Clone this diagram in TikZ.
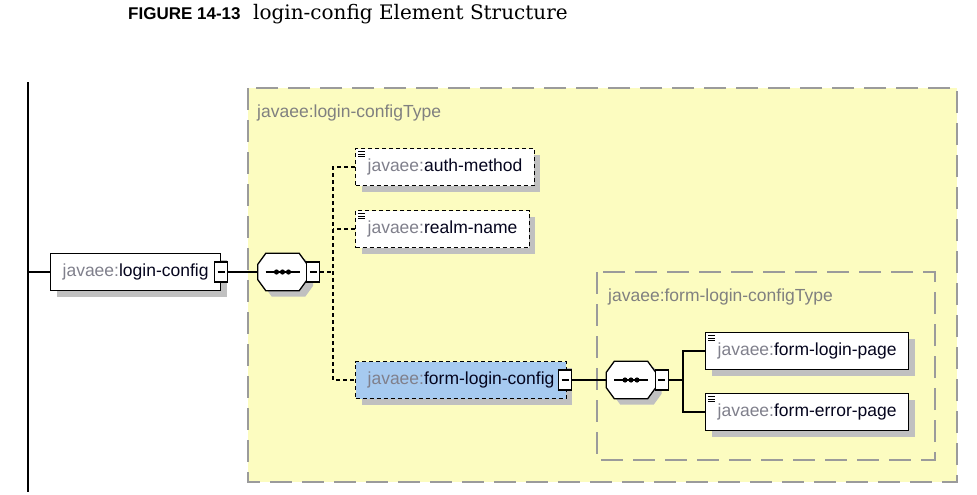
\documentclass[tikz,border=0pt]{standalone}
\usepackage{fontspec}
\setmainfont{Liberation Sans}
\newfontfamily\captionserif{DejaVu Serif}
\usepackage{tikz}
\usetikzlibrary{positioning,shadows,calc}
\usepackage{xcolor}
\definecolor{typeyellow}{RGB}{252,252,192}
\definecolor{elemblue}{RGB}{166,202,240}
\definecolor{shadowgray}{RGB}{192,192,192}
\definecolor{framegray}{RGB}{155,155,155}
\definecolor{nsgray}{RGB}{128,128,140}
\definecolor{namenavy}{RGB}{5,5,30}
\newcommand{\xsdname}[1]{\textcolor{nsgray}{javaee:}\textcolor{namenavy}{#1}}

\tikzset{
  elem/.style={draw, line width=1.3pt, fill=white, anchor=west, minimum height=37pt,
    inner xsep=12pt, font=\fontsize{17.5}{20}\selectfont,
    drop shadow={shadow xshift=6pt, shadow yshift=-6pt, fill=shadowgray, opacity=1}},
  optelem/.style={elem, dash pattern=on 4pt off 3pt},
  collapse/.style={draw, line width=1.1pt, fill=white, minimum width=13pt, minimum height=20pt,
    inner sep=0pt, path picture={\draw[line width=1.3pt]
      ([xshift=3pt]path picture bounding box.west) -- ([xshift=-3pt]path picture bounding box.east);}},
  sequence/.style={minimum width=49pt, minimum height=37pt, inner sep=0pt},
  octagon/.style={line width=1.3pt, fill=white,
    drop shadow={shadow xshift=6pt, shadow yshift=-6pt, fill=shadowgray, opacity=1}},
  typebox/.style={draw=framegray, line width=1.8pt, dash pattern=on 22pt off 10pt},
  typelabel/.style={text=gray, anchor=west, inner sep=0pt, font=\fontsize{17.5}{20}\selectfont},
  wire/.style={line width=1.3pt},
  optwire/.style={line width=1.3pt, dash pattern=on 4pt off 3pt},
}

\begin{document}
\begin{tikzpicture}[x=1pt,y=-1pt]
  \useasboundingbox (0,0) rectangle (977,495);

  % Caption
  \node[anchor=base west, inner sep=0pt, font=\fontsize{17}{20}\selectfont\bfseries] (figno) at (128,20) {FIGURE 14-13};
  \node[anchor=base west, inner sep=0pt, font=\captionserif\fontsize{20}{24}\selectfont] (figtitle) at (253,20) {login-config Element Structure};

  % Type boxes
  \draw[typebox, fill=typeyellow] (248,88) rectangle (957,482);
  \node[typelabel] (outerlbl) at (257,113) {javaee:login-configType};
  \draw[typebox] (597,272) rectangle (935,460);
  \node[typelabel] (innerlbl) at (608,297) {javaee:form-login-configType};

  % Parent rail
  \coordinate (railtop) at (28,82);
  \coordinate (railbot) at (28,492);
  \draw[wire] (railtop) -- (railbot);

  % Top-level element
  \node[elem] (login) at (50,272) {\xsdname{login-config}\hspace{8pt}};
  \node[collapse] (loginM) at (login.east) {};

  % Sequence compositors
  \node[sequence] (seqA) at (282.5,272) {};
  \node[sequence] (seqB) at (631,380) {};
  \foreach \s in {seqA,seqB} {
    \draw[octagon] ([yshift=-11pt]\s.north west) -- ([xshift=8pt]\s.north west)
      -- ([xshift=-8pt]\s.north east) -- ([yshift=-11pt]\s.north east)
      -- ([yshift=11pt]\s.south east) -- ([xshift=-8pt]\s.south east)
      -- ([xshift=8pt]\s.south west) -- ([yshift=11pt]\s.south west) -- cycle;
    \draw[wire] ([xshift=-17pt]\s.center) -- ([xshift=17pt]\s.center);
    \foreach \dx in {-6,0,6}
      \fill ([xshift=\dx pt]\s.center) circle (2.6);
  }
  \node[collapse, anchor=west] (seqAM) at ([xshift=-1pt]seqA.east) {};
  \node[collapse, anchor=west] (seqBM) at ([xshift=-1pt]seqB.east) {};
  \coordinate (forkA) at (333,272);
  \coordinate (forkB) at (683,380);

  % Children
  \node[optelem] (auth) at (355,167) {\xsdname{auth-method}};
  \node[optelem] (realm) at (355,229) {\xsdname{realm-name}};
  \node[optelem, fill=elemblue] (formcfg) at (355,380) {\xsdname{form-login-config}\hspace{8pt}};
  \node[collapse] (formcfgM) at ([xshift=-2pt]formcfg.east) {};
  \node[elem] (loginpage) at (705,351) {\xsdname{form-login-page}};
  \node[elem] (errorpage) at (705,412) {\xsdname{form-error-page}};

  % Simple-type marks
  \foreach \n in {auth,realm,loginpage,errorpage}
    \foreach \k in {4,6.5,9}
      \draw[line width=0.9pt] ([xshift=3pt,yshift=-\k pt]\n.north west) -- ++(7,0);

  % Connectors
  \draw[wire] (railtop |- login.west) -- (login.west);
  \draw[wire] (loginM.east) -- (seqA.west);
  \draw[optwire] (seqAM.east) -- (forkA);
  \draw[optwire] (auth.west) -| (forkA) |- (formcfg.west);
  \draw[optwire] (realm.west) -- (realm.west -| forkA);
  \draw[wire] (formcfgM.east) -- (seqB.west);
  \draw[wire] (seqBM.east) -- (forkB);
  \draw[wire] (loginpage.west) -| (forkB) |- (errorpage.west);
\end{tikzpicture}
\end{document}
